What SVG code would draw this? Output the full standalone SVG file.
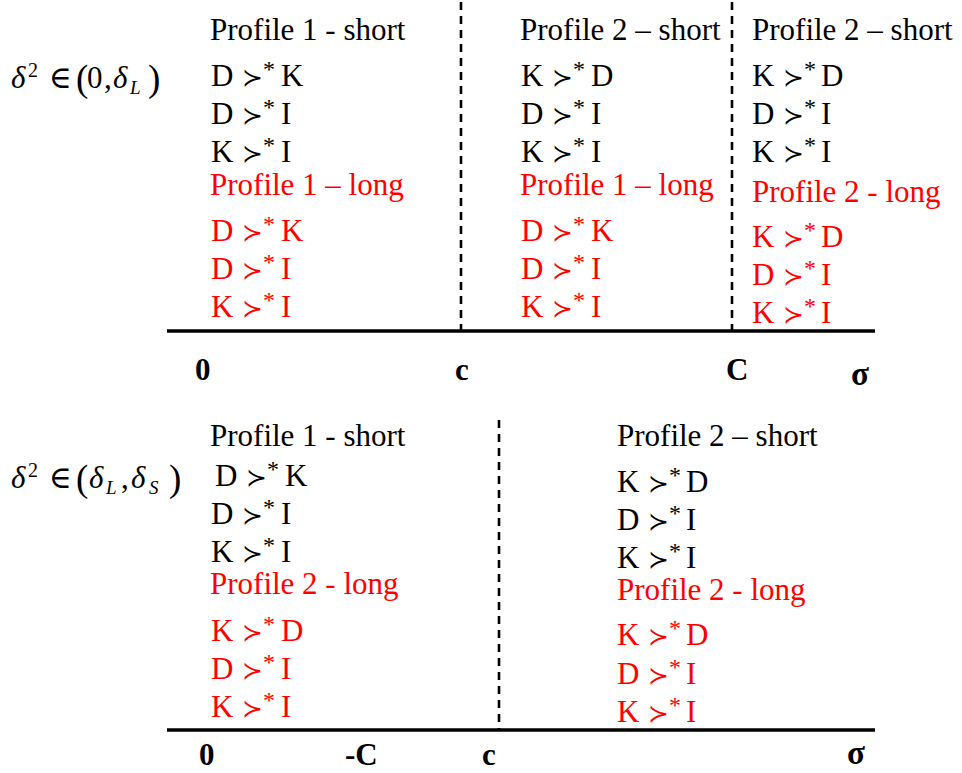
<svg xmlns="http://www.w3.org/2000/svg" width="962" height="773" viewBox="0 0 962 773">
<style>
text{font-family:"Liberation Serif","DejaVu Serif",serif;font-size:31px;fill:#000}
.r{fill:#ff0000}
.s{font-family:"DejaVu Sans",sans-serif;font-size:25px}
.a{font-size:24px}
.lab{font-weight:bold;font-size:31px}
.sig{font-weight:bold;font-size:33px}
.it{font-style:italic}
.sup{font-size:20px}
.sub{font-size:19px;font-style:italic}
.par{font-size:37px}
.axis{stroke:#000;stroke-width:3.5;fill:none}
.dash{stroke:#000;stroke-width:2.6;stroke-dasharray:8 6;fill:none}
</style>

<g id="connectors">
<line class="axis" x1="167" y1="331" x2="875" y2="331"/>
<line class="dash" x1="461" y1="2" x2="461" y2="331"/>
<line class="dash" x1="732" y1="2" x2="732" y2="331"/>
<line class="axis" x1="167" y1="730" x2="875" y2="730"/>
<line class="dash" x1="499" y1="420" x2="499" y2="730"/>
</g>

<g id="cond-top">
<text y="88"><tspan x="11" class="it">δ</tspan><tspan x="28" y="77" class="sup">2</tspan><tspan x="49" y="88">∈</tspan><tspan x="76" y="91" class="par">(</tspan><tspan x="87" y="88">0</tspan><tspan x="104" y="88">,</tspan><tspan x="113" y="88" class="it">δ</tspan><tspan x="130" y="94" class="sub">L</tspan><tspan x="148" y="91" class="par">)</tspan></text>
</g>

<g id="cond-bottom">
<text y="488"><tspan x="11" class="it">δ</tspan><tspan x="28" y="477" class="sup">2</tspan><tspan x="49" y="488">∈</tspan><tspan x="76" y="491" class="par">(</tspan><tspan x="89" y="488" class="it">δ</tspan><tspan x="106" y="494" class="sub">L</tspan><tspan x="121" y="488">,</tspan><tspan x="131" y="488" class="it">δ</tspan><tspan x="149" y="494" class="sub">S</tspan><tspan x="169" y="491" class="par">)</tspan></text>
</g>

<g id="top-left">
<text x="210" y="40">Profile 1 - short</text>
<text y="86"><tspan x="211">D</tspan><tspan x="242" class="s">≻</tspan><tspan x="263" y="77" class="a">*</tspan><tspan x="281" y="86">K</tspan></text>
<text y="124"><tspan x="211">D</tspan><tspan x="242" class="s">≻</tspan><tspan x="263" y="115" class="a">*</tspan><tspan x="281" y="124">I</tspan></text>
<text y="162"><tspan x="211">K</tspan><tspan x="242" class="s">≻</tspan><tspan x="263" y="153" class="a">*</tspan><tspan x="281" y="162">I</tspan></text>
<text class="r" x="210" y="195">Profile 1 – long</text>
<text class="r" y="241"><tspan x="211">D</tspan><tspan x="242" class="s r">≻</tspan><tspan x="263" y="232" class="a r">*</tspan><tspan x="281" y="241">K</tspan></text>
<text class="r" y="279"><tspan x="211">D</tspan><tspan x="242" class="s r">≻</tspan><tspan x="263" y="270" class="a r">*</tspan><tspan x="281" y="279">I</tspan></text>
<text class="r" y="317"><tspan x="211">K</tspan><tspan x="242" class="s r">≻</tspan><tspan x="263" y="308" class="a r">*</tspan><tspan x="281" y="317">I</tspan></text>
</g>

<g id="top-middle">
<text x="520" y="40">Profile 2 – short</text>
<text y="86"><tspan x="521">K</tspan><tspan x="552" class="s">≻</tspan><tspan x="573" y="77" class="a">*</tspan><tspan x="591" y="86">D</tspan></text>
<text y="124"><tspan x="521">D</tspan><tspan x="552" class="s">≻</tspan><tspan x="573" y="115" class="a">*</tspan><tspan x="591" y="124">I</tspan></text>
<text y="162"><tspan x="521">K</tspan><tspan x="552" class="s">≻</tspan><tspan x="573" y="153" class="a">*</tspan><tspan x="591" y="162">I</tspan></text>
<text class="r" x="520" y="195">Profile 1 – long</text>
<text class="r" y="241"><tspan x="521">D</tspan><tspan x="552" class="s r">≻</tspan><tspan x="573" y="232" class="a r">*</tspan><tspan x="591" y="241">K</tspan></text>
<text class="r" y="279"><tspan x="521">D</tspan><tspan x="552" class="s r">≻</tspan><tspan x="573" y="270" class="a r">*</tspan><tspan x="591" y="279">I</tspan></text>
<text class="r" y="317"><tspan x="521">K</tspan><tspan x="552" class="s r">≻</tspan><tspan x="573" y="308" class="a r">*</tspan><tspan x="591" y="317">I</tspan></text>
</g>

<g id="top-right">
<text x="752" y="40">Profile 2 – short</text>
<text y="86"><tspan x="752">K</tspan><tspan x="783" class="s">≻</tspan><tspan x="804" y="77" class="a">*</tspan><tspan x="821" y="86">D</tspan></text>
<text y="124"><tspan x="752">D</tspan><tspan x="783" class="s">≻</tspan><tspan x="804" y="115" class="a">*</tspan><tspan x="821" y="124">I</tspan></text>
<text y="162"><tspan x="752">K</tspan><tspan x="783" class="s">≻</tspan><tspan x="804" y="153" class="a">*</tspan><tspan x="821" y="162">I</tspan></text>
<text class="r" x="752" y="202">Profile 2 - long</text>
<text class="r" y="247"><tspan x="752">K</tspan><tspan x="783" class="s r">≻</tspan><tspan x="804" y="238" class="a r">*</tspan><tspan x="821" y="247">D</tspan></text>
<text class="r" y="285"><tspan x="752">D</tspan><tspan x="783" class="s r">≻</tspan><tspan x="804" y="276" class="a r">*</tspan><tspan x="821" y="285">I</tspan></text>
<text class="r" y="323"><tspan x="752">K</tspan><tspan x="783" class="s r">≻</tspan><tspan x="804" y="314" class="a r">*</tspan><tspan x="821" y="323">I</tspan></text>
</g>

<g id="top-axis-labels">
<text class="lab" x="195" y="380">0</text>
<text class="lab" x="455" y="380">c</text>
<text class="lab" x="726" y="380">C</text>
<text class="sig" x="851" y="385">σ</text>
</g>

<g id="bottom-left">
<text x="210" y="446">Profile 1 - short</text>
<text y="486"><tspan x="215">D</tspan><tspan x="246" class="s">≻</tspan><tspan x="267" y="477" class="a">*</tspan><tspan x="285" y="486">K</tspan></text>
<text y="524"><tspan x="211">D</tspan><tspan x="242" class="s">≻</tspan><tspan x="263" y="515" class="a">*</tspan><tspan x="281" y="524">I</tspan></text>
<text y="562"><tspan x="211">K</tspan><tspan x="242" class="s">≻</tspan><tspan x="263" y="553" class="a">*</tspan><tspan x="281" y="562">I</tspan></text>
<text class="r" x="210" y="594">Profile 2 - long</text>
<text class="r" y="641"><tspan x="211">K</tspan><tspan x="242" class="s r">≻</tspan><tspan x="263" y="632" class="a r">*</tspan><tspan x="281" y="641">D</tspan></text>
<text class="r" y="679"><tspan x="211">D</tspan><tspan x="242" class="s r">≻</tspan><tspan x="263" y="670" class="a r">*</tspan><tspan x="281" y="679">I</tspan></text>
<text class="r" y="717"><tspan x="211">K</tspan><tspan x="242" class="s r">≻</tspan><tspan x="263" y="708" class="a r">*</tspan><tspan x="281" y="717">I</tspan></text>
</g>

<g id="bottom-right">
<text x="617" y="446">Profile 2 – short</text>
<text y="492"><tspan x="617">K</tspan><tspan x="648" class="s">≻</tspan><tspan x="669" y="483" class="a">*</tspan><tspan x="686" y="492">D</tspan></text>
<text y="530"><tspan x="617">D</tspan><tspan x="648" class="s">≻</tspan><tspan x="669" y="521" class="a">*</tspan><tspan x="686" y="530">I</tspan></text>
<text y="568"><tspan x="617">K</tspan><tspan x="648" class="s">≻</tspan><tspan x="669" y="559" class="a">*</tspan><tspan x="686" y="568">I</tspan></text>
<text class="r" x="617" y="600">Profile 2 - long</text>
<text class="r" y="645"><tspan x="617">K</tspan><tspan x="648" class="s r">≻</tspan><tspan x="669" y="636" class="a r">*</tspan><tspan x="686" y="645">D</tspan></text>
<text class="r" y="684"><tspan x="617">D</tspan><tspan x="648" class="s r">≻</tspan><tspan x="669" y="675" class="a r">*</tspan><tspan x="686" y="684">I</tspan></text>
<text class="r" y="722"><tspan x="617">K</tspan><tspan x="648" class="s r">≻</tspan><tspan x="669" y="713" class="a r">*</tspan><tspan x="686" y="722">I</tspan></text>
</g>

<g id="bottom-axis-labels">
<text class="lab" x="199" y="765">0</text>
<text class="lab" x="345" y="765">-C</text>
<text class="lab" x="482" y="765">c</text>
<text class="sig" x="847" y="764">σ</text>
</g>
</svg>
